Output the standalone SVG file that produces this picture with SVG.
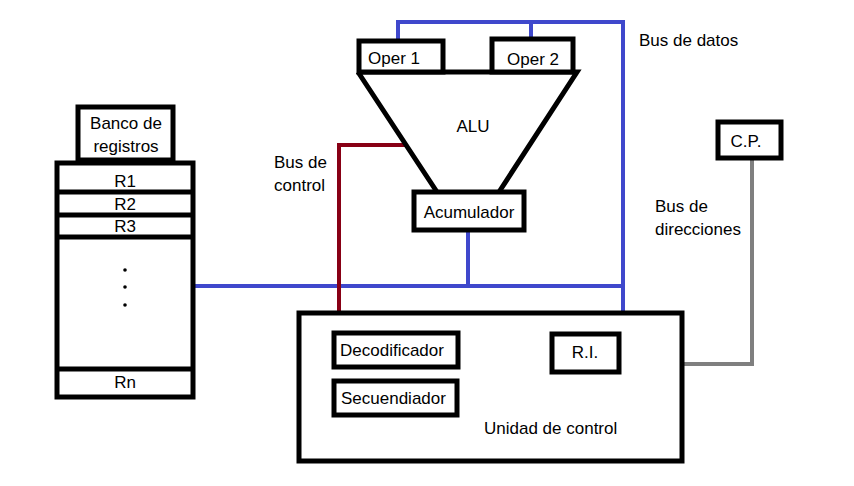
<svg xmlns="http://www.w3.org/2000/svg" width="854" height="486" viewBox="0 0 854 486">
<style>
.box{fill:#fff;stroke:#000;stroke-width:5}
.t{font-family:"Liberation Sans",Arial,sans-serif;font-size:17px;fill:#000}
.c{text-anchor:middle}
.blue{stroke:#3f48cc;stroke-width:4;fill:none}
.red{stroke:#880015;stroke-width:4;fill:none}
.gray{stroke:#7f7f7f;stroke-width:4;fill:none}
</style>
<rect width="854" height="486" fill="#fff"/>
<g id="connectors">
<polyline class="blue" points="398,41 398,22 623,22 623,313"/>
<line class="blue" x1="531" y1="22" x2="531" y2="39"/>
<line class="blue" x1="192" y1="286" x2="623" y2="286"/>
<line class="blue" x1="468" y1="231" x2="468" y2="286"/>
<polyline class="red" points="406,145 339,145 339,313"/>
<polyline class="gray" points="752,159 752,364 682,364"/>
</g>
<g id="alu">
<path d="M358,72 L577,72 L499,192 M358,72 L437,192" fill="none" stroke="#000" stroke-width="5"/>
<text class="t c" x="473" y="132">ALU</text>
</g>
<g id="oper1"><rect class="box" x="359" y="41" width="84" height="31"/><text class="t" x="368" y="64">Oper 1</text></g>
<g id="oper2"><rect class="box" x="492" y="39" width="81" height="33"/><text class="t" x="507" y="65">Oper 2</text></g>
<g id="acumulador"><rect class="box" x="414" y="192" width="110" height="38"/><text class="t c" x="469" y="218">Acumulador</text></g>
<g id="banco"><rect class="box" x="78" y="107" width="95" height="53"/><text class="t c" x="126" y="129">Banco de</text><text class="t c" x="126" y="152">registros</text></g>
<g id="registros">
<rect class="box" x="57" y="163" width="136" height="234"/>
<line x1="57" y1="192" x2="193" y2="192" stroke="#000" stroke-width="5"/>
<line x1="57" y1="215" x2="193" y2="215" stroke="#000" stroke-width="5"/>
<line x1="57" y1="237" x2="193" y2="237" stroke="#000" stroke-width="5"/>
<line x1="57" y1="369" x2="193" y2="369" stroke="#000" stroke-width="5"/>
<text class="t c" x="125" y="187">R1</text>
<text class="t c" x="125" y="210">R2</text>
<text class="t c" x="125" y="232">R3</text>
<text class="t c" x="125" y="388">Rn</text>
<circle cx="125" cy="270" r="1.8" fill="#000"/>
<circle cx="125" cy="287" r="1.8" fill="#000"/>
<circle cx="125" cy="305" r="1.8" fill="#000"/>
</g>
<g id="unidad">
<rect class="box" x="299" y="313" width="383" height="148"/>
<text class="t" x="484" y="434">Unidad de control</text>
</g>
<g id="decodificador"><rect class="box" x="334" y="333" width="124" height="34"/><text class="t" x="340" y="356">Decodificador</text></g>
<g id="secuendiador"><rect class="box" x="334" y="381" width="123" height="34"/><text class="t" x="341" y="404">Secuendiador</text></g>
<g id="ri"><rect class="box" x="552" y="334" width="67" height="38"/><text class="t c" x="585" y="358">R.I.</text></g>
<g id="cp"><rect class="box" x="718" y="122" width="63" height="36"/><text class="t c" x="746" y="147">C.P.</text></g>
<g id="labels">
<text class="t" x="639" y="46">Bus de datos</text>
<text class="t" x="274" y="168">Bus de</text>
<text class="t" x="274" y="191">control</text>
<text class="t" x="655" y="212">Bus de</text>
<text class="t" x="655" y="235">direcciones</text>
</g>
</svg>
